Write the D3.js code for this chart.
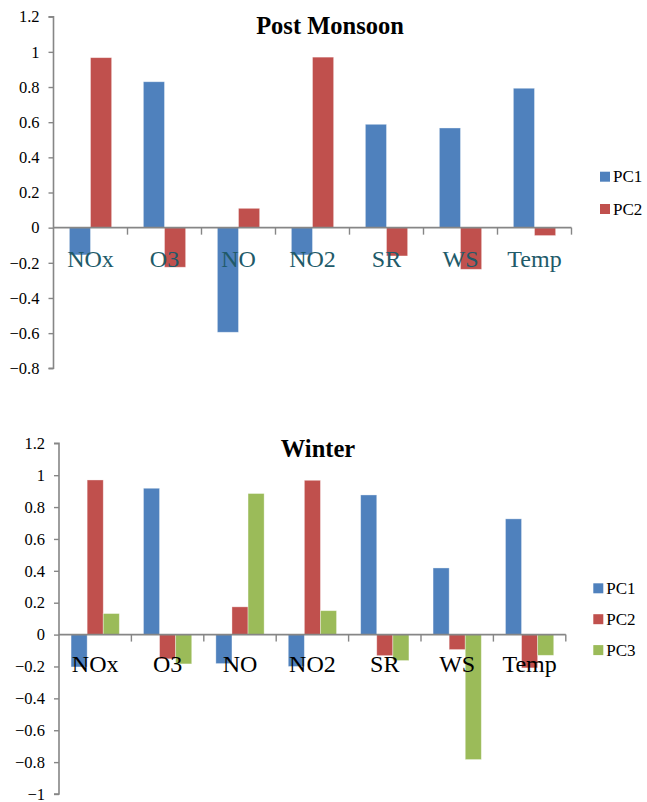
<!DOCTYPE html>
<html><head><meta charset="utf-8">
<script src="https://cdn.jsdelivr.net/npm/d3@7"></script>
<style>body{margin:0;background:#fff}svg{display:block}svg text{font-family:'Liberation Serif','Times New Roman',serif}</style>
</head><body>
<svg id="c" width="647" height="802"></svg>
<script>
const categories = ["NOx","O3","NO","NO2","SR","WS","Temp"];
const postPC1 = [-0.155, 0.83, -0.595, -0.155, 0.588, 0.567, 0.793];
const postPC2 = [0.967, -0.225, 0.11, 0.97, -0.161, -0.237, -0.045];
const winPC1 = [-0.203, 0.918, -0.182, -0.2, 0.876, 0.418, 0.726];
const winPC2 = [0.97, -0.152, 0.174, 0.968, -0.132, -0.094, -0.209];
const winPC3 = [0.132, -0.184, 0.885, 0.15, -0.163, -0.784, -0.13];
const postTicks = [-0.8,-0.6,-0.4,-0.2,0,0.2,0.4,0.6,0.8,1,1.2];
const winTicks = [-1,-0.8,-0.6,-0.4,-0.2,0,0.2,0.4,0.6,0.8,1,1.2];
const colors = {PC1:"#4F81BD", PC2:"#C0504D", PC3:"#9BBB59"};

const svg = d3.select("#c");
const font = "'Liberation Serif','Times New Roman',serif";

function drawChart(cfg){
  const g = svg.append("g");
  const x = d3.scaleBand().domain(categories).range([cfg.x0, cfg.x1]);
  const y = d3.scaleLinear().domain(cfg.domain).range([cfg.yBottom, cfg.yTop]);
  const names = cfg.series.map(s=>s.name);
  const inner = d3.scaleBand().domain(names).range([0, x.bandwidth()])
      .paddingInner(0).paddingOuter(cfg.pad);
  cfg.series.forEach(s=>{
    g.selectAll(null).data(s.values).enter().append("rect")
      .attr("x",(d,i)=>x(categories[i])+inner(s.name))
      .attr("width",inner.bandwidth())
      .attr("y",d=>y(Math.max(0,d)))
      .attr("height",d=>Math.abs(y(d)-y(0)))
      .attr("fill",colors[s.name])
      .attr("stroke","rgba(255,255,255,0.45)").attr("stroke-width",0.8);
  });
  const ya = g.append("g").attr("transform",`translate(${cfg.x0},0)`)
    .call(d3.axisLeft(y).tickValues(cfg.ticks).tickSize(5).tickPadding(9).tickFormat(d=>d3.format("")(+d.toFixed(1))));
  ya.attr("font-family",null);
  ya.select(".domain").attr("stroke","#868686").attr("stroke-width",1.6).attr("d",`M-5,${y(cfg.domain[1])}H0V${y(cfg.domain[0])}H-5`);
  ya.selectAll(".tick line").attr("stroke","#868686").attr("stroke-width",1.4);
  ya.selectAll(".tick text").style("font-family",font).style("font-size","16.5px").attr("fill","#000");
  const xa = g.append("g").attr("transform",`translate(0,${y(0)})`)
    .call(d3.axisBottom(x).tickSize(0).tickFormat(""));
  xa.select(".domain").attr("stroke","#868686").attr("stroke-width",1.6).attr("d",`M${cfg.x0},0H${cfg.x1}`);
  xa.selectAll(".tick").remove();
  const bounds = d3.range(1, categories.length+1).map(i=>cfg.x0 + i*x.step());
  xa.selectAll(null).data(bounds).enter().append("line")
    .attr("x1",d=>d).attr("x2",d=>d).attr("y1",0).attr("y2",7)
    .attr("stroke","#868686").attr("stroke-width",1.4);
  g.selectAll(null).data(categories).enter().append("text")
    .attr("x",d=>x(d)+x.bandwidth()/2).attr("y",cfg.labelY)
    .attr("text-anchor","middle").style("font-family",font).style("font-size","24px")
    .attr("fill",cfg.labelColor).text(d=>d);
  g.append("text").attr("x",cfg.titleX).attr("y",cfg.titleY).attr("text-anchor","middle")
    .style("font-family",font).attr("font-weight","bold").style("font-size","24.5px").text(cfg.title);
  cfg.series.forEach((s,i)=>{
    const ly = cfg.legY + i*cfg.legStep;
    g.append("rect").attr("x",cfg.legX).attr("y",ly).attr("width",10).attr("height",10).attr("fill",colors[s.name]);
    g.append("text").attr("x",cfg.legX+13).attr("y",ly+10.5).style("font-family",font)
      .style("font-size","17px").text(s.name);
  });
}

drawChart({
  x0:53.5, x1:571.5, yTop:16.7, yBottom:368.3, domain:[-0.8,1.2], ticks:postTicks,
  pad:0.75, labelY:266.5, labelColor:"#215A69",
  title:"Post Monsoon", titleX:330, titleY:33.5,
  legX:600, legY:171.7, legStep:32.3,
  series:[{name:"PC1",values:postPC1},{name:"PC2",values:postPC2}]
});
drawChart({
  x0:59, x1:565.8, yTop:443.3, yBottom:794, domain:[-1,1.2], ticks:winTicks,
  pad:0.75, labelY:672.3, labelColor:"#000",
  title:"Winter", titleX:318, titleY:457,
  legX:593.3, legY:583.3, legStep:30.9,
  series:[{name:"PC1",values:winPC1},{name:"PC2",values:winPC2},{name:"PC3",values:winPC3}]
});
</script>
</body></html>
